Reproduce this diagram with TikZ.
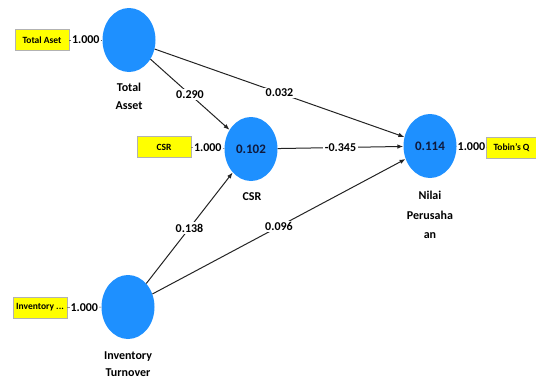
\documentclass[tikz,border=0pt]{standalone}
\usepackage{fontspec}
\setmainfont{Carlito}
\usetikzlibrary{arrows.meta,shapes.geometric}
\definecolor{lvc}{RGB}{30,144,255}
\definecolor{indc}{RGB}{255,255,0}
\definecolor{edgec}{RGB}{35,35,35}
\definecolor{valc}{RGB}{15,25,60}
\begin{document}
\begin{tikzpicture}[x=1pt,y=-1pt,
  latent/.style={ellipse, fill=lvc, minimum width=53pt, minimum height=64pt, inner sep=0pt,
    text=valc, font=\bfseries\fontsize{13}{15}\selectfont},
  indbox/.style={draw=gray!60, line width=0.5pt, fill=indc, minimum width=54pt, minimum height=21pt,
    inner sep=0pt, font=\bfseries\fontsize{9.5}{11}\selectfont},
  load/.style={fill=white, inner sep=1pt, font=\bfseries\fontsize{12}{14}\selectfont},
  coef/.style={fill=white, inner sep=1.5pt, font=\bfseries\fontsize{12}{14}\selectfont},
  pathc/.style={draw=edgec, line width=1pt, -{Latex[length=6pt,width=4.5pt]}},
  indline/.style={draw=gray!70!black, line width=0.6pt},
  lab/.style={font=\bfseries\fontsize{12}{18}\selectfont, align=center}]
\useasboundingbox (0,0) rectangle (536,381);
% latent variables
\node[latent] (TA) at (129,40) {};
\node[latent] (CSR) at (251,149) {0.102};
\node[latent] (NP) at (430,146) {0.114};
\node[latent] (IT) at (128,307) {};
% names
\node[lab] (TAl) at (129,96) {Total\\Asset};
\node[lab] (CSRl) at (252,197) {CSR};
\node[lab, font=\bfseries\fontsize{12}{19.5}\selectfont] (NPl) at (430,215) {Nilai\\Perusaha\\an};
\node[lab, font=\bfseries\fontsize{12}{17}\selectfont] (ITl) at (128,364.5) {Inventory\\Turnover};
% indicators
\node[indbox] (TAb) at (42,40) {Total Aset};
\node[indbox] (CSRb) at (164,147) {CSR};
\node[indbox] (ITb) at (40,307.5) {Inventory ...};
\node[indbox, minimum width=50pt] (NPb) at (511.5,148) {Tobin's Q};
\draw[indline] (TAb) -- node[load] {1.000} (TA);
\draw[indline] (CSRb) -- node[load] {1.000} (CSR);
\draw[indline] (ITb) -- node[load] {1.000} (IT);
\draw[indline] (NP) -- node[load] {1.000} (NPb);
% structural paths
\draw[pathc] (TA) -- node[coef] {0.290} (CSR);
\draw[pathc] (TA) -- node[coef] {0.032} (NP);
\draw[pathc] (CSR) -- node[coef] {-0.345} (NP);
\draw[pathc] (IT) -- node[coef] {0.138} (CSR);
\draw[pathc] (IT) -- node[coef] {0.096} (NP);
\end{tikzpicture}
\end{document}
